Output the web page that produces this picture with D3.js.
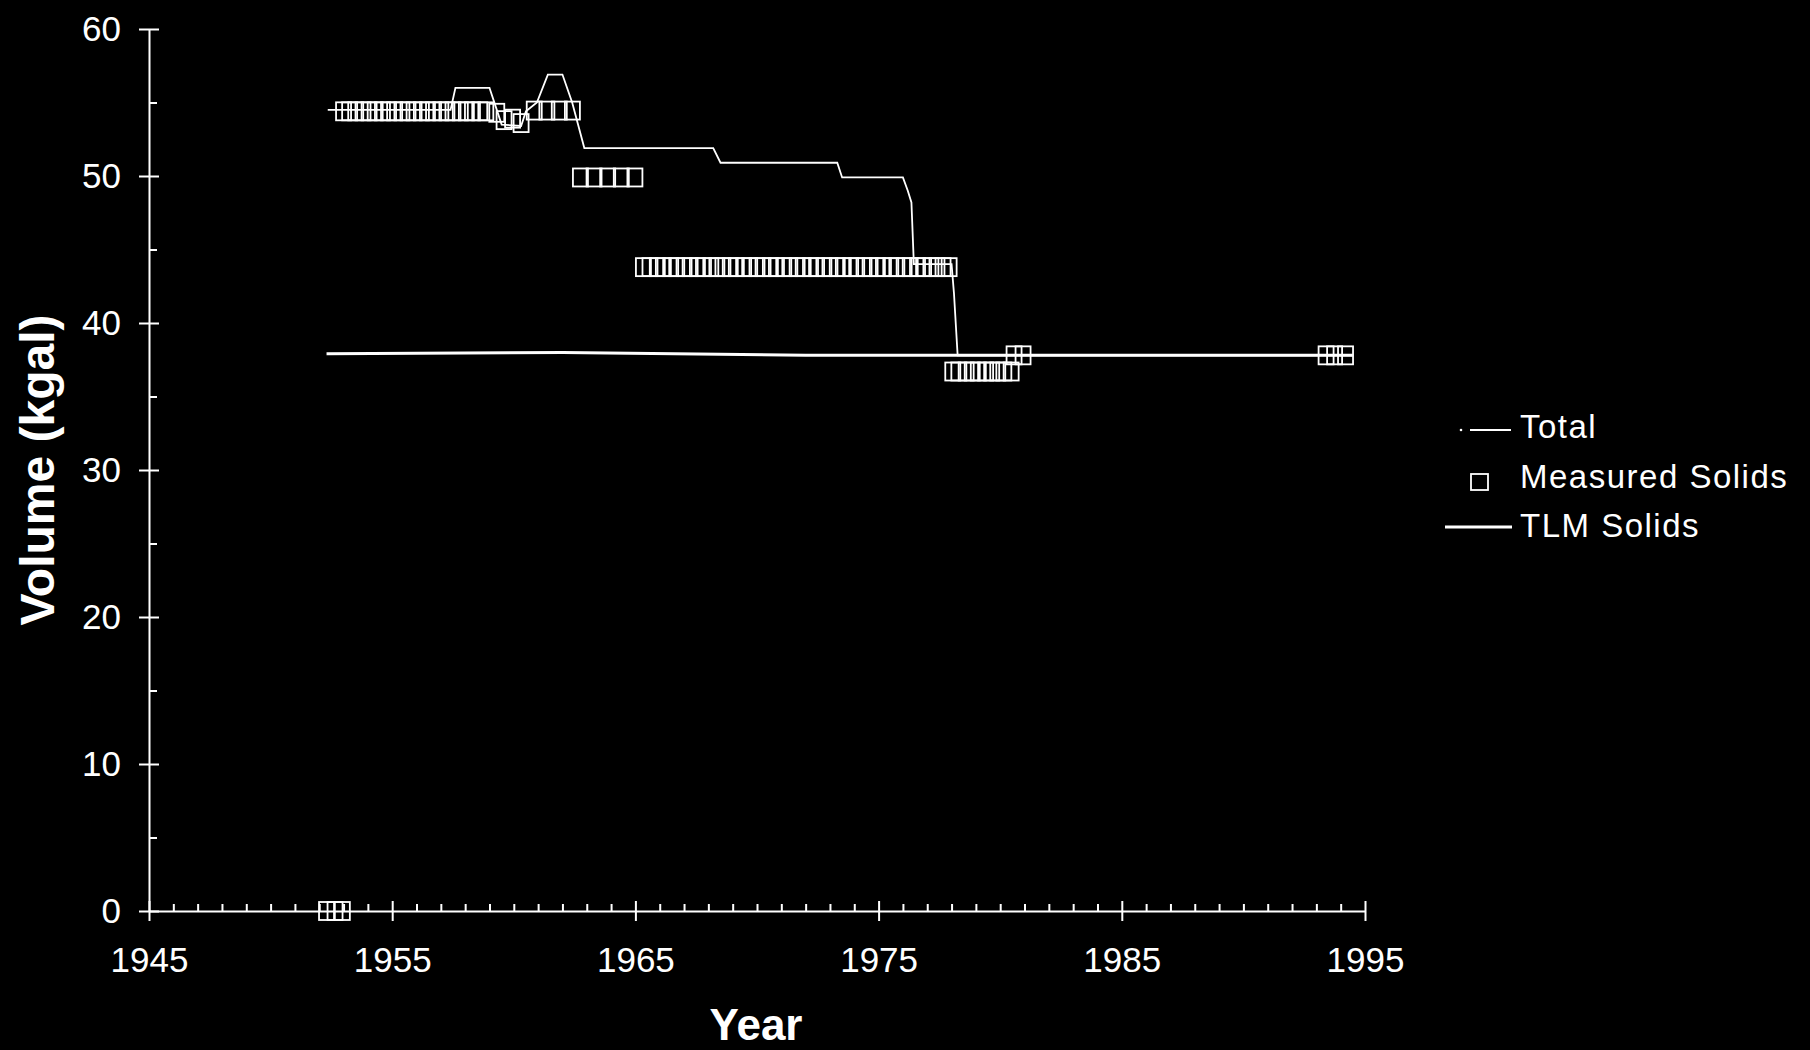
<!DOCTYPE html>
<html>
<head>
<meta charset="utf-8">
<script src="https://cdn.jsdelivr.net/npm/d3@7"></script>
<style>
  html, body { margin: 0; padding: 0; background: #000; }
  svg { display: block; background: #000; }
  text { fill: #fff; font-family: "Liberation Sans", Arial, Helvetica, sans-serif; }
</style>
</head>
<body>
<svg id="chart" width="1810" height="1050"></svg>
<script>
// Total waste volume in the tank (kgal)
const totalYears  = [1952.35, 1957.4, 1957.6, 1959.0, 1959.3, 1959.5, 1960.3, 1960.5, 1960.95, 1961.4, 1962.0, 1962.4, 1962.9, 1968.2, 1968.5, 1973.3, 1973.5, 1976.0, 1976.2, 1976.35, 1976.45, 1978.0, 1978.1, 1978.25, 1994.5];
const totalValues = [54.5,    54.5,   56.0,   56.0,   54.5,   53.5,   53.4,   54.4,   55.0,    56.9,   56.9,   55.0,   51.9,   51.9,   50.9,   50.9,   49.9,   49.9,   49.0,   48.2,    44.0,   44.0,   42.0,   37.8,    37.8];

// Tank layer model solids volume (kgal)
const tlmYears  = [1952.3, 1962.0, 1972.0, 1994.5];
const tlmValues = [37.9,   38.0,   37.8,   37.8];

// Measured solids volume (kgal)
const measuredYears = [
  1952.3, 1952.65, 1952.95,
  1953.0, 1953.25, 1953.5, 1953.8, 1954.05, 1954.3, 1954.6, 1954.85, 1955.1, 1955.4, 1955.65, 1955.9,
  1956.2, 1956.45, 1956.7, 1957.0, 1957.25, 1957.5, 1957.8, 1958.05, 1958.3, 1958.6, 1958.85,
  1959.3, 1959.6, 1959.95, 1960.3,
  1960.84, 1961.36, 1961.87, 1962.41,
  1962.74, 1963.3, 1963.86, 1964.42, 1964.98,
  1965.33, 1965.6, 1965.9, 1966.15, 1966.45, 1966.7, 1967.0, 1967.25, 1967.55, 1967.8, 1968.1, 1968.35,
  1968.6, 1968.9, 1969.15, 1969.45, 1969.7, 1970.0, 1970.25, 1970.55, 1970.8, 1971.1, 1971.35, 1971.65,
  1971.9, 1972.2, 1972.45, 1972.75, 1973.0, 1973.3, 1973.55, 1973.85, 1974.1, 1974.4, 1974.65, 1974.95,
  1975.2, 1975.5, 1975.75, 1976.05, 1976.3, 1976.6, 1976.85, 1977.15, 1977.4, 1977.65, 1977.9,
  1978.05, 1978.3, 1978.6, 1978.85, 1979.1, 1979.4, 1979.65, 1979.9, 1980.15, 1980.45,
  1980.57, 1980.94,
  1993.4, 1993.75, 1994.2
];
const measuredValues = [
  0, 0, 0,
  54.4, 54.4, 54.4, 54.4, 54.4, 54.4, 54.4, 54.4, 54.4, 54.4, 54.4, 54.4,
  54.4, 54.4, 54.4, 54.4, 54.4, 54.4, 54.4, 54.4, 54.4, 54.4, 54.4,
  54.3, 53.8, 53.9, 53.6,
  54.45, 54.45, 54.45, 54.45,
  49.9, 49.9, 49.9, 49.9, 49.9,
  43.8, 43.8, 43.8, 43.8, 43.8, 43.8, 43.8, 43.8, 43.8, 43.8, 43.8, 43.8,
  43.8, 43.8, 43.8, 43.8, 43.8, 43.8, 43.8, 43.8, 43.8, 43.8, 43.8, 43.8,
  43.8, 43.8, 43.8, 43.8, 43.8, 43.8, 43.8, 43.8, 43.8, 43.8, 43.8, 43.8,
  43.8, 43.8, 43.8, 43.8, 43.8, 43.8, 43.8, 43.8, 43.8, 43.8, 43.8,
  36.7, 36.7, 36.7, 36.7, 36.7, 36.7, 36.7, 36.7, 36.7, 36.7,
  37.8, 37.8,
  37.8, 37.8, 37.8
];

// Axis ticks and labels
const xMajorTicks = [1945, 1955, 1965, 1975, 1985, 1995];
const xMinorTicks = d3.range(1946, 1995).filter(y => (y - 1945) % 10 !== 0);
const yMajorTicks = [0, 10, 20, 30, 40, 50, 60];
const yMinorTicks = [5, 15, 25, 35, 45, 55];

const legendLabels = ["Total", "Measured Solids", "TLM Solids"];

const svg = d3.select("#chart");

const x = d3.scaleLinear().domain([1945, 1995]).range([149, 1365]);
const y = d3.scaleLinear().domain([0, 60]).range([911, 29]);

const axisStyle = g => {
  g.selectAll("path, line").attr("stroke", "#fff").attr("stroke-width", 2);
  g.selectAll("text").attr("fill", "#fff")
    .style("font-family", '"Liberation Sans", Arial, sans-serif')
    .style("font-size", "35px");
};

// Y axis: labelled outward ticks, plus inward halves and minor ticks
svg.append("g").attr("transform", `translate(${x(1945)},0)`)
  .call(d3.axisLeft(y).tickValues(yMajorTicks).tickSize(10).tickSizeOuter(0).tickPadding(18)
    .tickFormat(d3.format("d")))
  .call(axisStyle)
  .call(g => g.select(".domain").remove());
svg.append("g").attr("transform", `translate(${x(1945)},0)`)
  .call(d3.axisRight(y).tickValues(yMajorTicks).tickSize(10).tickSizeOuter(0).tickFormat(""))
  .call(axisStyle);
svg.append("g").attr("transform", `translate(${x(1945)},0)`)
  .call(d3.axisRight(y).tickValues(yMinorTicks).tickSize(8).tickFormat(""))
  .call(axisStyle)
  .call(g => g.select(".domain").remove());

// X axis: labelled downward ticks, plus upward halves and yearly minor ticks
svg.append("g").attr("transform", `translate(0,${y(0)})`)
  .call(d3.axisBottom(x).tickValues(xMajorTicks).tickSize(10).tickSizeOuter(0).tickPadding(26)
    .tickFormat(d3.format("d")))
  .call(axisStyle);
svg.append("g").attr("transform", `translate(0,${y(0)})`)
  .call(d3.axisTop(x).tickValues(xMajorTicks).tickSize(10).tickFormat(""))
  .call(axisStyle)
  .call(g => g.select(".domain").remove());
svg.append("g").attr("transform", `translate(0,${y(0)})`)
  .call(d3.axisTop(x).tickValues(xMinorTicks).tickSize(7).tickFormat(""))
  .call(axisStyle)
  .call(g => g.select(".domain").remove());

// Axis titles
svg.append("text")
  .attr("transform", `translate(54,${(y(0) + y(60)) / 2}) rotate(-90)`)
  .attr("text-anchor", "middle")
  .style("font-size", "48px").style("font-weight", "bold")
  .text("Volume (kgal)");
svg.append("text")
  .attr("x", 756).attr("y", 1040)
  .attr("text-anchor", "middle")
  .style("font-size", "44px").style("font-weight", "bold")
  .text("Year");

const line = d3.line().x(d => x(d[0])).y(d => y(d[1]));

// TLM solids line
const tlmData = tlmYears.map((t, i) => [t, tlmValues[i]]);
svg.append("path").datum(tlmData)
  .attr("d", line).attr("fill", "none").attr("stroke", "#fff").attr("stroke-width", 3);

// Total volume line
const totalData = totalYears.map((t, i) => [t, totalValues[i]]);
svg.append("path").datum(totalData)
  .attr("d", line).attr("fill", "none").attr("stroke", "#fff").attr("stroke-width", 1.8);

// Measured solids markers (open boxes)
const boxW = 15, boxH = 18;
const measuredData = measuredYears.map((t, i) => [t, measuredValues[i]]);
svg.append("g").selectAll("rect").data(measuredData).join("rect")
  .attr("x", d => x(d[0]) - boxW / 2)
  .attr("y", d => y(d[1]) - boxH / 2)
  .attr("width", boxW).attr("height", boxH)
  .attr("fill", "none").attr("stroke", "#fff").attr("stroke-width", 1.8);

// Legend
const legend = svg.append("g");
legend.append("circle").attr("cx", 1461).attr("cy", 430).attr("r", 1.3).attr("fill", "#fff");
legend.append("line").attr("x1", 1470).attr("x2", 1511).attr("y1", 430).attr("y2", 430)
  .attr("stroke", "#fff").attr("stroke-width", 1.8);
legend.append("rect").attr("x", 1471).attr("y", 474).attr("width", 17).attr("height", 16)
  .attr("fill", "none").attr("stroke", "#fff").attr("stroke-width", 1.8);
legend.append("line").attr("x1", 1445).attr("x2", 1512).attr("y1", 527).attr("y2", 527)
  .attr("stroke", "#fff").attr("stroke-width", 3);
const legendY = [438, 488, 537];
legend.selectAll("text.lbl").data(legendLabels).join("text")
  .attr("class", "lbl")
  .attr("x", 1520).attr("y", (d, i) => legendY[i])
  .style("font-size", "33px").style("letter-spacing", "1.5px")
  .text(d => d);
</script>
</body>
</html>
